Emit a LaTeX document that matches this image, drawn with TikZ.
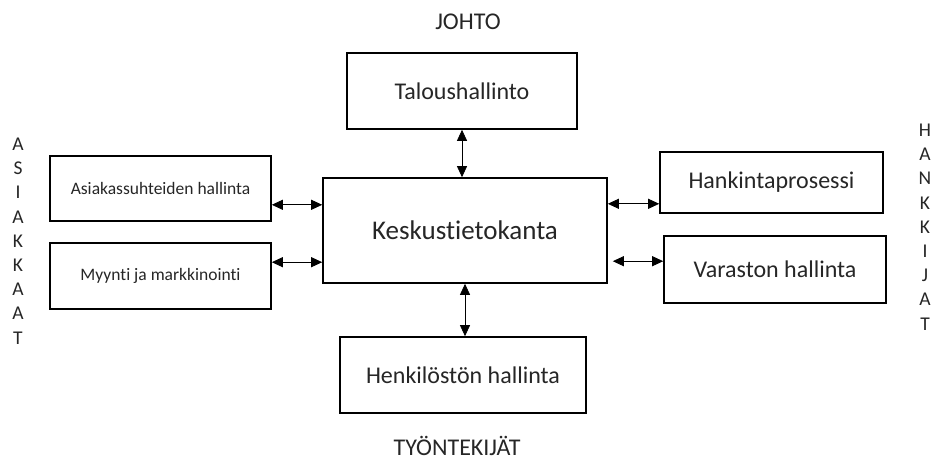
\documentclass[tikz,border=0pt]{standalone}
\usepackage{fontspec}
\setmainfont{Carlito}[Ligatures=NoCommon]
\usetikzlibrary{arrows.meta}
\tikzset{
  unit/.style={
    draw=black, line width=1.6pt, fill=white,
    inner sep=0pt, text=black!85
  },
  link/.style={
    {Triangle[length=11pt,width=10pt]}-{Triangle[length=11pt,width=10pt]},
    line width=0.8pt
  },
  side/.style={
    align=center, inner sep=0pt, text=black!85,
    font=\fontsize{19.5}{24.2}\selectfont
  }
}

\begin{document}
\begin{tikzpicture}[x=1pt, y=-1pt]
  \useasboundingbox (0,0) rectangle (933,462);
  %
  % central database and the four sides
  %
  \node[unit, minimum width=284pt, minimum height=105pt,
        font=\fontsize{27}{30}\selectfont] (kes) at (465,230.5) {Keskustietokanta};
  \node[unit, minimum width=230pt, minimum height=76pt,
        font=\fontsize{24}{28}\selectfont] (tal) at (462,91) {Taloushallinto};
  \node[unit, minimum width=246pt, minimum height=76pt,
        font=\fontsize{24}{28}\selectfont] (hen) at (463,375) {Henkilöstön hallinta};
  \node[unit, minimum width=221pt, minimum height=65pt,
        font=\fontsize{17.5}{20}\selectfont] (asi) at (160.5,188.5) {Asiakassuhteiden hallinta};
  \node[unit, minimum width=221pt, minimum height=66pt,
        font=\fontsize{17.5}{20}\selectfont] (myy) at (160.5,276) {Myynti ja markkinointi};
  \node[unit, minimum width=223pt, minimum height=61pt,
        font=\fontsize{24}{28}\selectfont] (han) at (771.5,182.5) {Hankintaprosessi};
  \node[unit, minimum width=222pt, minimum height=67pt,
        font=\fontsize{24}{28}\selectfont] (var) at (775,269.5) {Varaston hallinta};
  %
  % group labels
  %
  \node[text=black!85, font=\fontsize{24}{28}\selectfont] (johto) at (468,22) {JOHTO};
  \node[text=black!85, font=\fontsize{24}{28}\selectfont] (tyon) at (457,446) {TYÖNTEKIJÄT};
  \node[side] (asiakkaat) at (18,241) {A\\S\\I\\A\\K\\K\\A\\A\\T};
  \node[side] (hankkijat) at (925,227) {H\\A\\N\\K\\K\\I\\J\\A\\T};
  %
  % links to the database
  %
  \draw[link] (tal.south) -- (tal.south |- kes.north);
  \draw[link] (kes.south) -- (kes.south |- hen.north);
  \draw[link] ([yshift=17pt]asi.south east) coordinate (a1) -- (a1 -| kes.west);
  \draw[link] ([yshift=-20pt]myy.north east) coordinate (a2) -- (a2 -| kes.west);
  \draw[link] ([yshift=10pt]han.south west) coordinate (a3) -- (a3 -| kes.east);
  \draw[link, shorten >=5pt] ([yshift=-26pt]var.north west) coordinate (a4) -- (a4 -| kes.east);
\end{tikzpicture}
\end{document}
